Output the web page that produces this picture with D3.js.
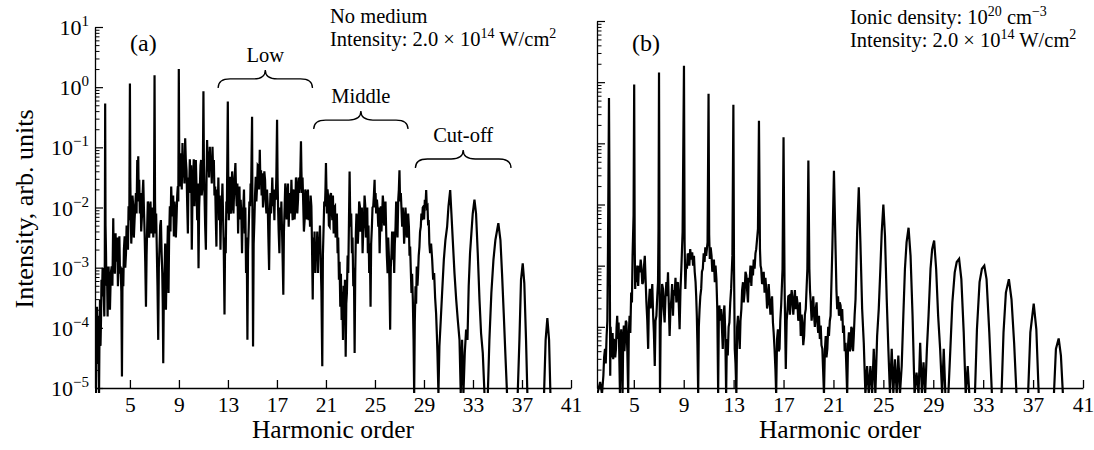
<!DOCTYPE html>
<html><head><meta charset="utf-8">
<script src="https://cdn.jsdelivr.net/npm/d3@7"></script>
<style>
body{margin:0;background:#fff;}
svg{display:block;font-family:"Liberation Serif","Times New Roman",serif;}
</style></head><body>
<svg id="chart" width="1094" height="450"></svg>
<script>
// ---------- data ----------
const harmonicTicks = [5, 9, 13, 17, 21, 25, 29, 33, 37, 41];
const decadeExponents = [-5, -4, -3, -2, -1, 0, 1];
const minorMultipliers = [2, 3, 4, 5, 6, 7, 8, 9];

// panel (a): [harmonic order, log10(intensity)]
const spectrumNoMedium = [
[2.15,-4.70],[2.19,-3.9],[2.23,-5.1],[2.27,-4.1],[2.31,-3.65],[2.35,-4.6],[2.39,-4.42],[2.43,-3.8],[2.48,-5.1],[2.52,-4.0],[2.56,-3.53],[2.60,-4.3],[2.64,-3.87],[2.68,-3.2],[2.72,-3.48],[2.77,-3.0],[2.83,-3.09],[2.87,-3.5],[2.91,-3.81],[2.95,-2.9],
[2.98,-0.27],[3.01,-2.3],[3.05,-2.76],[3.08,-3.3],[3.10,-2.98],[3.14,-3.2],[3.18,-3.81],[3.22,-3.1],[3.26,-2.98],[3.31,-3.4],[3.37,-3.70],[3.44,-3.1],[3.51,-2.98],[3.57,-3.3],[3.64,-2.18],[3.68,-2.9],[3.72,-2.70],[3.77,-3.1],[3.83,-2.43],[3.87,-2.9],
[3.92,-2.76],[3.97,-2.5],[4.02,-3.31],[4.08,-2.8],[4.14,-2.48],[4.19,-3.1],[4.24,-2.98],[4.30,-3.4],[4.35,-4.81],[4.40,-3.0],[4.46,-3.31],[4.51,-2.7],[4.57,-2.48],[4.62,-3.0],[4.68,-2.76],[4.73,-2.3],[4.79,-2.43],[4.84,-2.7],[4.89,-1.98],
[4.95,-2.21],[5.00,0.06],[5.03,-1.5],[5.06,-1.98],[5.11,-2.6],[5.16,-2.32],[5.21,-1.8],[5.27,-1.98],[5.32,-2.5],[5.38,-2.21],[5.43,-2.0],[5.49,-1.76],[5.54,-2.1],[5.60,-1.21],[5.64,-1.8],[5.68,-1.15],[5.72,-1.9],[5.76,-1.54],[5.81,-2.1],
[5.87,-1.76],[5.92,-2.4],[5.98,-2.15],[6.03,-1.8],[6.09,-1.54],[6.14,-2.0],[6.20,-2.43],[6.25,-2.9],[6.31,-3.65],[6.36,-2.8],[6.41,-2.32],[6.46,-1.9],[6.52,-1.98],[6.57,-2.5],[6.63,-2.21],[6.68,-1.9],[6.74,-2.43],[6.79,-2.0],[6.85,-2.10],
[6.91,-2.5],[6.96,-2.21],[7.01,0.20],[7.05,-1.9],[7.09,-2.43],[7.14,-2.1],[7.20,-2.76],[7.25,-3.3],[7.31,-4.20],[7.36,-3.0],[7.42,-2.65],[7.47,-2.3],[7.53,-2.21],[7.58,-2.7],[7.64,-3.09],[7.68,-3.6],[7.72,-4.59],[7.77,-3.4],[7.83,-3.04],
[7.88,-2.6],[7.94,-3.70],[7.99,-3.0],[8.05,-2.76],[8.10,-2.3],[8.15,-3.42],[8.20,-2.5],[8.26,-1.98],[8.31,-2.4],[8.37,-1.65],[8.42,-2.0],[8.48,-2.15],[8.53,-1.8],[8.59,-2.48],[8.64,-1.9],[8.70,-2.10],[8.75,-2.5],[8.80,-2.21],[8.86,-1.8],[8.91,-1.65],[8.95,-1.9],
[8.99,0.30],[9.03,-1.3],[9.08,-1.65],[9.13,-1.1],[9.18,-1.32],[9.23,-1.7],[9.29,-0.93],[9.34,-1.5],[9.40,-1.26],[9.45,-1.6],[9.51,-0.85],[9.56,-1.2],[9.62,-1.38],[9.67,-1.9],[9.73,-2.43],[9.78,-1.5],[9.84,-1.65],[9.89,-1.2],[9.95,-1.76],[10.00,-1.3],
[10.05,-2.70],[10.10,-1.9],[10.16,-1.54],[10.21,-1.2],[10.27,-1.98],[10.32,-1.5],[10.38,-1.21],[10.43,-1.6],[10.49,-2.21],[10.54,-1.6],[10.60,-3.01],[10.65,-2.0],[10.71,-1.65],[10.76,-1.3],[10.81,-1.21],[10.86,-1.8],[10.92,-1.65],[10.96,-1.2],[11.00,-0.07],
[11.04,-1.3],[11.09,-1.82],[11.14,-2.3],[11.20,-2.70],[11.25,-1.6],[11.30,-0.88],[11.35,-1.4],[11.41,-1.07],[11.46,-1.5],[11.52,-0.99],[11.57,-1.3],[11.63,-1.21],[11.68,-1.6],[11.74,-0.99],[11.79,-1.4],[11.85,-1.21],[11.90,-1.8],[11.96,-1.65],[12.01,-2.2],[12.06,-2.65],
[12.11,-1.7],[12.17,-1.98],[12.22,-1.5],[12.28,-2.21],[12.33,-1.8],[12.39,-2.70],[12.44,-2.1],[12.50,-1.98],[12.55,-1.6],[12.61,-2.21],[12.66,-2.7],[12.72,-3.78],[12.77,-2.5],[12.82,-2.76],[12.87,-1.9],[12.91,-2.10],[12.99,-0.24],[13.03,-1.6],[13.07,-2.21],
[13.12,-1.8],[13.18,-1.49],[13.23,-2.1],[13.29,-1.98],[13.34,-1.4],[13.40,-1.65],[13.45,-2.1],[13.50,-1.76],[13.55,-1.5],[13.61,-1.26],[13.66,-1.7],[13.72,-1.98],[13.77,-1.6],[13.83,-2.43],[13.88,-1.9],[13.94,-1.65],[13.99,-2.2],[14.04,-1.87],[14.10,-2.2],[14.15,-2.76],
[14.20,-2.1],[14.26,-1.98],[14.31,-1.7],[14.37,-2.43],[14.42,-2.0],[14.48,-3.09],[14.53,-2.5],[14.59,-4.20],[14.64,-2.7],[14.70,-2.32],[14.75,-1.9],[14.81,-1.98],[14.85,-1.6],[14.89,-1.76],[14.97,-0.49],[15.01,-2.5],[15.05,-4.31],[15.10,-2.6],[15.16,-2.21],
[15.21,-1.8],[15.27,-1.49],[15.32,-1.9],[15.38,-1.65],[15.43,-1.3],[15.49,-1.32],[15.54,-1.7],[15.60,-1.04],[15.65,-1.6],[15.70,-1.38],[15.75,-1.8],[15.81,-1.43],[15.86,-2.0],[15.92,-1.76],[15.97,-1.4],[16.03,-1.54],[16.08,-1.9],[16.14,-2.10],[16.19,-1.7],[16.25,-1.98],[16.30,-2.5],
[16.36,-3.04],[16.41,-2.2],[16.47,-1.76],[16.52,-2.1],[16.57,-1.87],[16.62,-1.5],[16.68,-1.98],[16.73,-1.7],[16.79,-2.21],[16.84,-1.7],[16.90,-1.87],[16.95,-1.5],[17.01,-0.54],[17.05,-1.5],[17.09,-1.98],[17.14,-2.4],[17.20,-2.76],[17.25,-2.0],[17.31,-2.37],[17.36,-1.9],
[17.42,-2.43],[17.47,-2.9],[17.52,-3.45],[17.57,-2.4],[17.63,-1.98],[17.68,-1.6],[17.74,-1.76],[17.79,-2.2],[17.85,-1.98],[17.90,-1.6],[17.96,-2.32],[18.01,-1.9],[18.07,-1.76],[18.12,-2.1],[18.18,-1.54],[18.23,-1.9],[18.28,-2.21],[18.33,-1.7],[18.39,-1.76],[18.44,-2.2],
[18.50,-1.98],[18.55,-1.5],[18.61,-1.65],[18.66,-2.1],[18.72,-1.87],[18.77,-1.5],[18.83,-1.76],[18.90,-1.5],[18.96,-0.90],[19.00,-1.4],[19.04,-1.76],[19.09,-1.5],[19.15,-1.98],[19.20,-2.4],[19.26,-2.21],[19.31,-1.7],[19.37,-1.76],[19.42,-2.2],[19.48,-1.98],[19.53,-1.7],
[19.59,-2.21],[19.64,-1.9],[19.70,-2.32],[19.75,-1.8],[19.81,-1.98],[19.86,-2.6],[19.92,-3.53],[19.97,-2.5],[20.02,-2.87],[20.07,-2.4],[20.13,-3.09],[20.18,-2.6],[20.24,-2.76],[20.29,-2.4],[20.35,-3.09],[20.40,-2.5],[20.46,-2.65],[20.51,-2.3],[20.57,-2.87],[20.63,-3.4],
[20.70,-4.64],[20.75,-2.8],[20.81,-2.32],[20.86,-1.9],[20.92,-1.98],[20.96,-1.7],[21.00,-1.26],[21.04,-1.7],[21.08,-2.10],[21.13,-1.7],[21.19,-1.87],[21.24,-2.3],[21.30,-2.32],[21.35,-1.8],[21.41,-1.76],[21.46,-2.0],[21.52,-2.21],[21.57,-1.8],[21.63,-2.43],[21.68,-2.0],
[21.74,-1.98],[21.79,-2.5],[21.84,-2.32],[21.89,-2.1],[21.95,-2.76],[22.00,-2.5],[22.06,-3.20],[22.11,-2.9],[22.17,-3.65],[22.22,-3.1],[22.28,-3.87],[22.33,-3.4],[22.39,-4.20],[22.44,-3.3],[22.50,-3.76],[22.55,-3.2],[22.61,-4.48],[22.66,-3.6],[22.71,-3.42],[22.77,-2.8],
[22.82,-3.09],[22.88,-2.2],[22.93,-1.40],[22.97,-2.0],[23.01,-2.32],[23.06,-2.1],[23.12,-2.76],[23.17,-2.5],[23.23,-3.31],[23.28,-3.0],[23.34,-4.42],[23.39,-3.1],[23.44,-2.43],[23.49,-2.1],[23.55,-2.21],[23.60,-2.6],[23.66,-2.32],[23.71,-1.9],[23.77,-1.98],[23.82,-2.4],
[23.88,-2.21],[23.93,-2.0],[23.99,-2.76],[24.04,-2.4],[24.10,-2.21],[24.15,-1.8],[24.21,-1.98],[24.26,-2.5],[24.32,-2.32],[24.37,-2.0],[24.42,-2.76],[24.47,-2.3],[24.53,-3.09],[24.58,-2.6],[24.64,-3.65],[24.69,-2.6],[24.75,-2.32],[24.80,-2.0],[24.86,-1.98],[24.91,-1.8],
[24.97,-1.54],[25.01,-2.0],[25.05,-1.76],[25.10,-2.1],[25.16,-1.87],[25.21,-2.0],[25.27,-2.32],[25.32,-2.0],[25.38,-2.76],[25.43,-2.3],[25.48,-1.98],[25.53,-2.4],[25.59,-2.10],[25.64,-1.8],[25.70,-1.98],[25.75,-2.3],[25.81,-2.21],[25.86,-1.9],[25.92,-2.43],[25.97,-2.8],
[26.03,-3.09],[26.08,-2.5],[26.13,-2.76],[26.18,-3.2],[26.24,-4.03],[26.29,-3.0],[26.35,-2.76],[26.40,-2.4],[26.46,-2.87],[26.51,-2.4],[26.57,-3.09],[26.62,-2.6],[26.68,-2.32],[26.73,-1.9],[26.79,-2.21],[26.84,-2.5],[26.90,-1.87],[26.95,-1.7],[27.00,-1.38],
[27.05,-1.9],[27.11,-1.76],[27.16,-2.0],[27.22,-2.32],[27.27,-2.0],[27.33,-2.21],[27.38,-2.6],[27.44,-2.32],[27.49,-2.0],[27.55,-2.21],[27.60,-2.5],[27.66,-2.43],[27.71,-2.1],[27.77,-2.32],[27.82,-2.8],[27.87,-2.65],[27.92,-3.0],[27.98,-3.42],[28.03,-3.1],[28.09,-3.53],
[28.15,-4.2],[28.20,-5.1],[28.25,-3.9],[28.31,-3.31],[28.36,-3.6],[28.41,-2.98],[28.47,-3.3],[28.52,-3.09],[28.57,-2.8],[28.63,-2.65],[28.68,-2.4],[28.74,-2.32],[28.79,-2.1],[28.85,-2.21],[28.90,-2.0],[28.96,-1.98],[29.01,-2.2],[29.07,-1.87],[29.12,-2.0],[29.18,-1.71],
[29.23,-2.0],[29.29,-1.98],[29.34,-2.3],[29.39,-2.21],[29.44,-2.6],[29.50,-2.76],[29.58,-2.6],[29.67,-2.87],[29.75,-3.2],[29.83,-3.09],[29.91,-3.5],[29.99,-3.76],[30.05,-4.1],[30.10,-4.42],[30.18,-5.1],[30.26,-4.31],[30.37,-3.87],
[30.48,-3.42],[30.62,-2.87],[30.75,-2.54],[30.89,-2.32],[31.00,-1.98],[31.14,-1.71],[31.24,-2.10],[31.35,-2.54],[31.49,-3.09],[31.63,-3.53],
[31.76,-3.87],[31.90,-4.20],[32.00,-5.1],[32.11,-4.20],[32.22,-5.1],[32.33,-4.42],[32.44,-4.03],[32.55,-4.20],[32.65,-3.31],[32.76,-2.76],
[32.87,-2.43],[32.98,-2.10],[33.12,-1.87],[33.25,-2.10],[33.39,-2.76],[33.53,-3.53],[33.66,-4.09],[33.80,-4.42],[33.94,-5.1],[34.21,-5.1],
[34.34,-4.20],[34.50,-3.42],[34.67,-2.87],[34.83,-2.54],[35.07,-2.26],[35.24,-2.54],[35.37,-3.09],[35.51,-3.76],[35.64,-4.42],[35.78,-5.1],
[36.65,-5.1],[36.79,-4.20],[36.92,-3.20],[37.06,-2.93],[37.19,-3.26],[37.33,-4.20],[37.44,-5.1],[38.80,-5.1],[38.93,-4.20],[39.07,-3.84],
[39.21,-4.20],[39.32,-5.1],[41.0,-5.1]
];

// panel (b): [harmonic order, log10(intensity)]
const spectrumIonic = [
[2.08,-5.1],[2.30,-4.9],[2.45,-5.1],[2.56,-4.80],[2.62,-4.5],[2.69,-4.36],[2.75,-4.6],[2.82,-4.15],[2.88,-3.9],[2.93,-2.73],[3.01,-0.26],[3.06,-2.18],[3.11,-4.80],[3.14,-4.0],[3.17,-4.15],[3.21,-4.5],[3.25,-4.31],[3.30,-4.1],
[3.35,-4.53],[3.40,-4.2],[3.46,-4.26],[3.51,-4.5],[3.57,-4.36],[3.62,-4.0],[3.67,-3.82],[3.72,-4.2],[3.78,-3.93],[3.83,-4.4],[3.89,-5.1],[3.94,-4.3],[3.99,-4.04],[4.05,-4.5],[4.10,-5.1],[4.15,-4.2],[4.20,-3.98],[4.25,-4.4],[4.31,-4.15],[4.36,-3.9],
[4.41,-3.93],[4.48,-4.4],[4.55,-5.1],[4.60,-4.1],[4.66,-3.82],[4.72,-4.1],[4.79,-3.44],[4.85,-3.6],[4.90,-2.84],[4.98,-2.18],[5.03,-0.04],[5.07,-2.6],[5.11,-3.38],[5.16,-3.1],[5.22,-3.27],[5.28,-3.0],[5.35,-3.33],[5.41,-3.0],
[5.48,-3.11],[5.55,-2.9],[5.62,-3.05],[5.68,-3.3],[5.75,-3.27],[5.82,-3.0],[5.88,-2.84],[5.94,-3.2],[6.01,-3.60],[6.08,-3.9],[6.15,-4.36],[6.21,-3.6],[6.28,-3.38],[6.34,-3.7],[6.41,-3.55],[6.48,-3.3],[6.55,-3.82],[6.61,-4.1],[6.68,-4.64],
[6.74,-3.9],[6.81,-3.82],[6.88,-3.5],[6.94,-3.27],[6.98,-2.4],[7.02,0.16],[7.06,-3.0],[7.10,-5.1],[7.15,-4.0],[7.21,-3.71],[7.27,-3.3],[7.34,-3.38],[7.40,-3.7],[7.47,-3.93],[7.54,-3.5],[7.61,-3.27],[7.67,-3.5],[7.74,-3.11],[7.80,-3.6],[7.87,-4.15],
[7.94,-3.7],[8.01,-3.55],[8.07,-3.3],[8.14,-3.82],[8.20,-3.4],[8.27,-3.49],[8.34,-3.2],[8.41,-3.60],[8.47,-3.3],[8.54,-3.27],[8.60,-3.6],[8.67,-4.04],[8.74,-3.4],[8.81,-3.05],[8.91,-2.45],[9.02,0.27],[9.07,-2.6],[9.13,-3.38],
[9.19,-3.0],[9.26,-3.05],[9.32,-2.8],[9.39,-2.84],[9.45,-3.0],[9.52,-2.73],[9.60,-2.9],[9.68,-2.78],[9.75,-3.0],[9.82,-2.84],[9.88,-3.1],[9.95,-3.27],[10.00,-3.5],[10.05,-3.82],[10.10,-4.3],[10.16,-5.1],[10.21,-4.0],[10.27,-3.71],[10.33,-3.5],[10.40,-3.38],
[10.46,-3.1],[10.53,-3.05],[10.60,-2.8],[10.67,-2.94],[10.73,-2.7],[10.80,-2.84],[10.91,-2.62],[10.99,-0.19],[11.04,-2.5],[11.09,-2.89],[11.16,-2.7],[11.23,-2.84],[11.29,-3.1],[11.36,-3.05],[11.42,-2.9],[11.49,-3.27],[11.55,-3.0],[11.62,-3.22],
[11.69,-3.7],[11.76,-5.1],[11.81,-3.9],[11.86,-3.65],[11.93,-3.9],[12.00,-3.71],[12.06,-4.0],[12.13,-4.36],[12.20,-3.8],[12.26,-3.65],[12.33,-4.1],[12.40,-5.1],[12.46,-4.2],[12.53,-4.47],[12.60,-4.0],[12.66,-3.93],[12.73,-3.6],[12.80,-3.38],[12.90,-2.84],
[12.98,-0.37],[13.03,-3.0],[13.09,-4.36],[13.15,-4.6],[13.22,-5.1],[13.28,-4.0],[13.35,-3.82],[13.42,-4.1],[13.49,-4.36],[13.55,-3.9],[13.62,-3.71],[13.68,-3.4],[13.75,-3.27],[13.81,-3.6],[13.88,-3.44],[13.95,-3.1],[14.02,-3.16],[14.08,-3.4],[14.15,-3.60],
[14.21,-3.2],[14.28,-3.27],[14.35,-3.0],[14.42,-3.33],[14.48,-3.0],[14.55,-3.16],[14.61,-2.9],[14.68,-3.05],[14.75,-2.8],[14.81,-2.73],[14.95,-2.40],[15.03,-0.63],[15.11,-2.73],[15.16,-3.0],[15.21,-3.05],[15.28,-3.3],[15.35,-3.27],
[15.41,-3.1],[15.48,-3.44],[15.55,-3.2],[15.61,-3.38],[15.68,-3.7],[15.75,-3.60],[15.81,-3.3],[15.88,-3.55],[15.95,-3.8],[16.01,-3.65],[16.08,-3.5],[16.15,-3.93],[16.21,-4.1],[16.28,-4.36],[16.35,-4.7],[16.41,-5.1],[16.48,-4.2],[16.55,-4.04],[16.61,-4.4],[16.68,-4.36],
[16.74,-3.9],[16.81,-3.65],[16.92,-3.05],[17.00,-0.90],[17.08,-3.27],[17.13,-4.0],[17.18,-4.69],[17.25,-3.9],[17.32,-3.71],[17.38,-3.5],[17.45,-3.49],[17.51,-3.8],[17.58,-3.60],[17.65,-3.4],[17.72,-3.55],[17.78,-3.8],[17.85,-3.60],
[17.91,-3.4],[17.98,-3.71],[18.05,-3.5],[18.11,-3.60],[18.18,-3.9],[18.25,-3.82],[18.31,-3.6],[18.38,-4.15],[18.45,-3.8],[18.51,-3.93],[18.58,-4.3],[18.65,-4.15],[18.71,-3.8],[18.78,-3.71],[18.91,-3.05],[18.99,-1.28],[19.07,-3.05],
[19.12,-3.4],[19.18,-3.60],[19.25,-3.9],[19.31,-3.71],[19.38,-3.5],[19.45,-3.82],[19.51,-4.0],[19.58,-3.71],[19.65,-3.6],[19.71,-3.93],[19.78,-4.1],[19.84,-3.82],[19.91,-4.2],[19.98,-3.98],[20.04,-4.3],[20.11,-4.36],[20.17,-4.7],[20.24,-5.1],[20.31,-4.4],[20.38,-4.15],
[20.44,-4.5],[20.51,-4.36],[20.58,-4.0],[20.64,-4.15],[20.71,-3.9],[20.77,-3.82],[20.91,-2.73],[21.04,-1.45],[21.17,-2.73],[21.24,-3.4],[21.30,-3.71],[21.37,-3.5],[21.44,-3.82],[21.50,-3.6],[21.57,-3.65],[21.64,-3.9],[21.70,-3.71],
[21.77,-4.1],[21.84,-3.98],[21.90,-4.4],[21.97,-4.26],[22.04,-4.7],[22.10,-5.1],[22.17,-4.3],[22.24,-4.09],[22.30,-4.4],[22.37,-4.36],[22.43,-4.0],[22.50,-4.04],[22.57,-4.4],[22.63,-4.15],[22.70,-3.8],[22.77,-3.55],[22.90,-2.45],[23.03,-1.72],
[23.16,-2.62],[23.30,-3.71],[23.43,-4.26],[23.56,-5.1],[23.70,-4.64],[23.83,-5.1],[23.96,-4.64],[24.10,-5.1],[24.23,-4.36],[24.36,-5.1],
[24.50,-4.15],[24.63,-3.71],[24.76,-3.05],[24.87,-2.45],[25.00,-2.00],[25.13,-2.51],[25.27,-3.55],[25.40,-4.36],[25.53,-5.1],[25.67,-4.36],
[25.80,-5.1],[25.93,-4.53],[26.07,-5.1],[26.20,-4.47],[26.33,-5.1],[26.47,-4.64],[26.60,-3.82],[26.73,-3.05],[26.86,-2.62],[27.02,-2.38],
[27.18,-2.84],[27.34,-3.82],[27.50,-5.1],[27.66,-4.75],[27.82,-5.1],[27.95,-4.26],[28.09,-5.1],[28.22,-4.58],[28.35,-5.1],[28.49,-4.36],
[28.62,-3.82],[28.78,-3.05],[28.91,-2.73],[29.07,-2.59],[29.23,-3.05],[29.39,-3.82],[29.55,-4.36],[29.71,-5.1],[29.84,-4.36],[29.97,-5.1],
[30.21,-5.1],[30.37,-4.36],[30.53,-3.60],[30.72,-3.11],[30.88,-2.94],[31.07,-2.89],[31.25,-3.22],[31.44,-4.09],[31.60,-5.1],[31.76,-4.64],
[31.89,-5.1],[32.34,-5.1],[32.50,-4.04],[32.71,-3.27],[32.90,-3.05],[33.09,-3.00],[33.27,-3.22],[33.49,-4.09],[33.70,-5.1],[34.47,-5.1],
[34.63,-4.09],[34.82,-3.44],[35.06,-3.22],[35.27,-3.55],[35.48,-4.26],[35.67,-5.1],[36.60,-5.1],[36.78,-4.09],[37.05,-3.62],[37.26,-4.04],
[37.45,-5.1],[38.67,-5.1],[38.83,-4.36],[39.05,-4.19],[39.23,-4.47],[39.39,-5.1],[41.0,-5.1]
];

// bracket annotations in panel (a)
const braceLabels = ["Low", "Middle", "Cut-off"];
const braceStart = [12.2, 20.0, 28.3];
const braceEnd = [19.9, 27.7, 36.1];
const braceIntensity = [1.37, 0.284, 0.064];

// ---------- drawing ----------
const svg = d3.select("#chart");
const black = "#000";

function drawPanel(cfg, points, withYLabels) {
  const x = d3.scaleLinear().domain([cfg.hMin, 41]).range([cfg.x0, cfg.x1]);
  const y = d3.scaleLog().domain([1e-5, 10]).range([cfg.y1, cfg.y0]);
  const g = svg.append("g");

  const clipId = "clip-" + cfg.id;
  svg.append("clipPath").attr("id", clipId).append("rect")
    .attr("x", cfg.x0).attr("y", cfg.y0 - 6)
    .attr("width", cfg.x1 - cfg.x0).attr("height", cfg.y1 - cfg.y0 + 11);

  const line = d3.line().x(d => x(d[0])).y(d => y(Math.pow(10, d[1])));
  g.append("path").datum(points)
    .attr("clip-path", `url(#${clipId})`)
    .attr("d", line).attr("fill", "none")
    .attr("stroke", black).attr("stroke-width", 2.2);

  // x axis
  const xAxis = d3.axisBottom(x).tickValues(harmonicTicks)
    .tickSizeInner(-8).tickSizeOuter(0).tickPadding(9);
  const gx = g.append("g").attr("transform", `translate(0,${cfg.y1})`).call(xAxis);
  gx.select(".domain").attr("stroke", black).attr("stroke-width", 1.3);
  gx.selectAll(".tick line").attr("stroke", black).attr("stroke-width", 1.3);
  gx.selectAll(".tick text").attr("font-family", "Liberation Serif, serif")
    .attr("font-size", 21.5).attr("fill", black);

  // y axis: major ticks
  const majors = decadeExponents.map(e => Math.pow(10, e));
  const yAxis = d3.axisLeft(y).tickValues(majors).tickFormat("")
    .tickSizeInner(-8).tickSizeOuter(0);
  const gy = g.append("g").attr("transform", `translate(${cfg.x0},0)`).call(yAxis);
  gy.select(".domain").attr("stroke", black).attr("stroke-width", 1.3);
  gy.selectAll(".tick line").attr("stroke", black).attr("stroke-width", 1.2);

  // minor ticks
  const minors = [];
  decadeExponents.slice(0, -1).forEach(e => minorMultipliers.forEach(m => minors.push(m * Math.pow(10, e))));
  const yMinor = d3.axisLeft(y).tickValues(minors).tickFormat("")
    .tickSizeInner(-4.5).tickSizeOuter(0);
  const gm = g.append("g").attr("transform", `translate(${cfg.x0},0)`).call(yMinor);
  gm.select(".domain").remove();
  gm.selectAll(".tick line").attr("stroke", black).attr("stroke-width", 1);

  if (withYLabels) {
    decadeExponents.forEach(e => {
      const t = g.append("text").attr("x", cfg.x0 - 6).attr("y", y(Math.pow(10, e)) + 8)
        .attr("text-anchor", "end").attr("font-size", 22).attr("fill", black);
      t.append("tspan").text("10");
      t.append("tspan").attr("dy", -9).attr("font-size", 15)
        .text(e < 0 ? "\u2212" + Math.abs(e) : String(e));
    });
  }

  // x title
  g.append("text").attr("x", (cfg.x0 + cfg.x1) / 2).attr("y", 438)
    .attr("text-anchor", "middle").attr("font-size", 25.5).attr("fill", black)
    .text("Harmonic order");

  // panel letter
  g.append("text").attr("x", cfg.x0 + 35).attr("y", 51)
    .attr("font-size", 24).attr("fill", black).text(cfg.letter);

  return { x, y, g };
}

const A = drawPanel({ id: "a", x0: 95, x1: 571, y0: 27, y1: 388, hMin: 2.15, letter: "(a)" }, spectrumNoMedium, true);
const B = drawPanel({ id: "b", x0: 597, x1: 1083, y0: 21, y1: 388, hMin: 2.05, letter: "(b)" }, spectrumIonic, false);

// y title
svg.append("text").attr("transform", "translate(33,209) rotate(-90)")
  .attr("text-anchor", "middle").attr("font-size", 26).attr("fill", black)
  .text("Intensity, arb. units");

// info texts: segments alternate normal / superscript
function infoLine(x, yy, parts) {
  const t = svg.append("text").attr("x", x).attr("y", yy).attr("font-size", 20.5).attr("fill", black);
  parts.forEach((s, i) => {
    const sp = t.append("tspan").text(s);
    if (i % 2 === 1) sp.attr("dy", -8).attr("font-size", 14);
    else if (i > 0) sp.attr("dy", 8);
  });
}
infoLine(330, 23, ["No medium"]);
infoLine(330, 46, ["Intensity: 2.0 \u00d7 10", "14", " W/cm", "2"]);
infoLine(850, 24, ["Ionic density: 10", "20", " cm", "\u22123"]);
infoLine(850, 47, ["Intensity: 2.0 \u00d7 10", "14", " W/cm", "2"]);

// braces
braceLabels.forEach((lab, i) => {
  const xl = A.x(braceStart[i]), xr = A.x(braceEnd[i]), yl = A.y(braceIntensity[i]);
  const xm = (xl + xr) / 2, h = 9, r = 12;
  const p = d3.path();
  p.moveTo(xl, yl + h);
  p.quadraticCurveTo(xl, yl, xl + r, yl);
  p.lineTo(xm - r, yl);
  p.quadraticCurveTo(xm, yl, xm, yl - h);
  p.quadraticCurveTo(xm, yl, xm + r, yl);
  p.lineTo(xr - r, yl);
  p.quadraticCurveTo(xr, yl, xr, yl + h);
  A.g.append("path").attr("d", p.toString()).attr("fill", "none")
    .attr("stroke", black).attr("stroke-width", 1.3);
  A.g.append("text").attr("x", xm).attr("y", yl - 17).attr("text-anchor", "middle")
    .attr("font-size", 20.5).attr("fill", black).text(lab);
});
</script>
</body></html>
